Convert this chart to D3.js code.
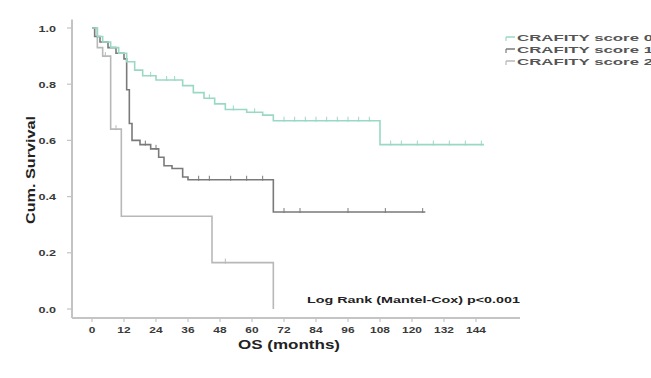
<!DOCTYPE html>
<html>
<head>
<meta charset="utf-8">
<script src="https://cdn.jsdelivr.net/npm/d3@7"></script>
<style>
  html, body { margin: 0; padding: 0; background: #fff; }
  svg { display: block; font-family: Arial, "Liberation Sans", sans-serif; }
</style>
</head>
<body>
<svg id="chart" width="651" height="378"></svg>
<script>
// ---- Data ----
const seriesNames = ["CRAFITY score 0", "CRAFITY score 1", "CRAFITY score 2"];
const xTicks = [0, 12, 24, 36, 48, 60, 72, 84, 96, 108, 120, 132, 144];
const yTicks = [0.0, 0.2, 0.4, 0.6, 0.8, 1.0];

// Kaplan-Meier steps: [time (months), cumulative survival]
const score0Steps = [[0,1.0],[2,0.97],[4,0.95],[7,0.93],[10,0.91],[13,0.88],[16,0.85],[19,0.83],[24,0.815],[34,0.795],[38,0.77],[42,0.75],[46,0.73],[50,0.71],[58,0.70],[64,0.69],[68,0.67],[108,0.585]];
const score0End = 147;
const score0Censor = [22,28,31,44,53,61,72,76,80,84,88,92,96,100,104,112,116,122,128,134,140,146];

const score1Steps = [[0,1.0],[1,0.97],[3,0.95],[6,0.93],[9,0.91],[12,0.89],[13,0.78],[14,0.66],[15,0.60],[18,0.585],[22,0.57],[25,0.54],[27,0.51],[30,0.50],[34,0.47],[36,0.46],[68,0.345]];
const score1End = 125;
const score1Censor = [20,24,40,44,52,58,64,72,78,96,110,124];

const score2Steps = [[0,1.0],[2,0.93],[4,0.90],[7,0.64],[11,0.33],[45,0.165],[68,0.0]];
const score2End = 68;
const score2Censor = [5,9,50];

const seriesSteps = [score0Steps, score1Steps, score2Steps];
const seriesEnds = [score0End, score1End, score2End];
const seriesCensor = [score0Censor, score1Censor, score2Censor];

const logRankText = "Log Rank (Mantel-Cox) p<0.001";
const xTitle = "OS (months)";
const yTitle = "Cum. Survival";

// ---- Styles ----
const colors = ["#9ad8c6", "#7a7a7a", "#b8b8b8"];
const axisColor = "#c4c4c4";
const textColor = "#3a3a3a";

const svg = d3.select("#chart");

const x = d3.scaleLinear().domain([0, 144]).range([92, 476]);
const y = d3.scaleLinear().domain([0, 1]).range([309, 28]);
const xMin = -7.5, xMax = 160.5;
const yMin = -0.032, yMax = 1.03;

// stretch helper (reference text is horizontally stretched)
function stretch(sel, factor) {
  sel.each(function() {
    const w = this.getComputedTextLength();
    d3.select(this).attr("textLength", w * factor).attr("lengthAdjust", "spacingAndGlyphs");
  });
}

// axes lines
svg.append("line").attr("x1", x(xMin)).attr("x2", x(xMin))
  .attr("y1", y(yMax)).attr("y2", y(yMin))
  .attr("stroke", axisColor).attr("stroke-width", 2);
svg.append("line").attr("x1", x(xMin)).attr("x2", x(xMax))
  .attr("y1", y(yMin)).attr("y2", y(yMin))
  .attr("stroke", axisColor).attr("stroke-width", 2);

// y ticks
const yAxisG = svg.append("g");
yTicks.forEach(v => {
  yAxisG.append("line").attr("x1", x(xMin) - 5).attr("x2", x(xMin))
    .attr("y1", y(v)).attr("y2", y(v)).attr("stroke", axisColor).attr("stroke-width", 1.2);
});
const yLabels = yAxisG.selectAll("text.yl").data(yTicks).join("text")
  .attr("class", "yl")
  .attr("x", 56).attr("y", d => y(d) + 3.5)
  .attr("text-anchor", "end")
  .attr("font-size", 9).attr("font-weight", "bold")
  .attr("fill", textColor)
  .text(d => d.toFixed(1));
stretch(yLabels, 1.4);

// x ticks
const xAxisG = svg.append("g");
xTicks.forEach(v => {
  xAxisG.append("line").attr("x1", x(v)).attr("x2", x(v))
    .attr("y1", y(yMin)).attr("y2", y(yMin) + 4).attr("stroke", axisColor).attr("stroke-width", 1.2);
});
const xLabels = xAxisG.selectAll("text.xl").data(xTicks).join("text")
  .attr("class", "xl")
  .attr("x", d => x(d)).attr("y", 333)
  .attr("text-anchor", "middle")
  .attr("font-size", 8.5).attr("font-weight", "bold")
  .attr("fill", textColor)
  .text(d => d);
stretch(xLabels, 1.4);

// axis titles
svg.append("text").attr("x", 289).attr("y", 349)
  .attr("text-anchor", "middle").attr("font-size", 12).attr("font-weight", "bold")
  .attr("fill", "#222").attr("textLength", 102).attr("lengthAdjust", "spacingAndGlyphs")
  .text(xTitle);
svg.append("text")
  .attr("transform", "translate(35,170) rotate(-90)")
  .attr("text-anchor", "middle").attr("font-size", 12.5).attr("font-weight", "bold")
  .attr("fill", "#222").attr("textLength", 108).attr("lengthAdjust", "spacingAndGlyphs")
  .text(yTitle);

// curves
function stepPath(steps, end) {
  const pts = [];
  steps.forEach((s, i) => {
    if (i > 0) pts.push([s[0], steps[i-1][1]]);
    pts.push(s);
  });
  pts.push([end, steps[steps.length - 1][1]]);
  return d3.line().x(d => x(d[0])).y(d => y(d[1]))(pts);
}
function survAt(steps, t) {
  let v = steps[0][1];
  steps.forEach(s => { if (s[0] <= t) v = s[1]; });
  return v;
}

// draw in reverse order so score 0 is on top
[2, 1, 0].forEach(i => {
  const g = svg.append("g");
  g.append("path").attr("d", stepPath(seriesSteps[i], seriesEnds[i]))
    .attr("fill", "none").attr("stroke", colors[i]).attr("stroke-width", 1.6);
  g.selectAll("line.c").data(seriesCensor[i]).join("line")
    .attr("class", "c")
    .attr("x1", d => x(d)).attr("x2", d => x(d))
    .attr("y1", d => y(survAt(seriesSteps[i], d)) - 4)
    .attr("y2", d => y(survAt(seriesSteps[i], d)) + 1)
    .attr("stroke", colors[i]).attr("stroke-width", 1);
});

// legend
const legend = svg.append("g");
seriesNames.forEach((name, i) => {
  const ly = 40 + i * 12;
  legend.append("line").attr("x1", 506).attr("x2", 515).attr("y1", ly - 3).attr("y2", ly - 3)
    .attr("stroke", colors[i]).attr("stroke-width", 1.5);
  legend.append("line").attr("x1", 506).attr("x2", 506).attr("y1", ly - 3).attr("y2", ly + 1)
    .attr("stroke", colors[i]).attr("stroke-width", 1.2);
  legend.append("text").attr("x", 517).attr("y", ly + 1)
    .attr("font-size", 9.5).attr("font-weight", "bold").attr("fill", "#555")
    .attr("textLength", 136).attr("lengthAdjust", "spacingAndGlyphs")
    .text(name);
});

// log rank text
svg.append("text").attr("x", 307).attr("y", 303)
  .attr("font-size", 9.5).attr("font-weight", "bold").attr("fill", "#222")
  .attr("textLength", 213).attr("lengthAdjust", "spacingAndGlyphs")
  .text(logRankText);
</script>
</body>
</html>
